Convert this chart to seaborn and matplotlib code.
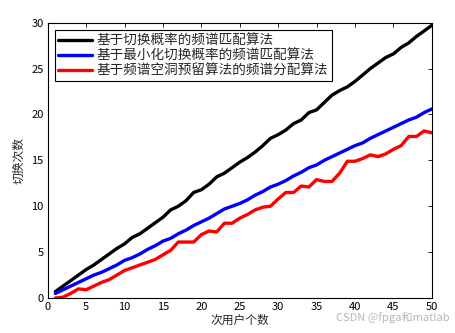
import numpy as np
import pandas as pd
import matplotlib
matplotlib.use("Agg")
import matplotlib.pyplot as plt
import seaborn as sns

x_users = list(range(1, 51))
black_vals = [0.7, 1.3, 1.9, 2.5, 3.1, 3.6, 4.2, 4.8, 5.4, 5.9,
              6.6, 7.0, 7.6, 8.2, 8.8, 9.6, 10.0, 10.6, 11.5, 11.8,
              12.4, 13.2, 13.6, 14.2, 14.8, 15.3, 15.9, 16.6, 17.4, 17.8,
              18.3, 19.0, 19.4, 20.2, 20.5, 21.3, 22.1, 22.6, 23.0, 23.6,
              24.3, 25.0, 25.6, 26.2, 26.6, 27.3, 27.8, 28.5, 29.1, 29.7]
blue_vals = [0.5, 0.9, 1.3, 1.7, 2.1, 2.5, 2.8, 3.2, 3.6, 4.1,
             4.4, 4.8, 5.3, 5.7, 6.2, 6.5, 7.0, 7.4, 7.9, 8.3,
             8.7, 9.2, 9.7, 10.0, 10.3, 10.7, 11.2, 11.6, 12.1, 12.4,
             12.8, 13.3, 13.7, 14.2, 14.5, 15.0, 15.4, 15.8, 16.2, 16.6,
             16.9, 17.4, 17.8, 18.2, 18.6, 19.0, 19.4, 19.7, 20.2, 20.6]
red_vals = [0.0, 0.1, 0.5, 1.0, 0.9, 1.3, 1.7, 2.0, 2.5, 3.0,
            3.3, 3.6, 3.9, 4.2, 4.7, 5.2, 6.1, 6.1, 6.1, 6.9,
            7.3, 7.2, 8.15, 8.15, 8.7, 9.1, 9.6, 9.9, 10.0, 10.8,
            11.5, 11.5, 12.2, 12.1, 12.9, 12.7, 12.7, 13.6, 14.9, 14.9,
            15.2, 15.6, 15.4, 15.7, 16.2, 16.6, 17.6, 17.6, 18.2, 18.0]
series_names = ["基于切换概率的频谱匹配算法",
                "基于最小化切换概率的频谱匹配算法",
                "基于频谱空洞预留算法的频谱分配算法"]
x_label = "次用户个数"
y_label = "切换次数"
x_ticks = [0, 5, 10, 15, 20, 25, 30, 35, 40, 45, 50]
y_ticks = [0, 5, 10, 15, 20, 25, 30]

sns.set_theme(style="white")
plt.rcParams['font.family'] = ['Noto Sans CJK SC', 'DejaVu Sans']

df = pd.DataFrame({
    "x": x_users * 3,
    "y": black_vals + blue_vals + red_vals,
    "s": [series_names[0]] * 50 + [series_names[1]] * 50 + [series_names[2]] * 50,
})

fig = plt.figure(figsize=(4.56, 3.33), dpi=100)
ax = fig.add_axes([0.1046, 0.105, 0.8424, 0.827])
sns.lineplot(data=df, x="x", y="y", hue="s", hue_order=series_names,
             palette=["#000000", "#0000ff", "#ff0000"], linewidth=2.4, ax=ax)

ax.set_xlim(0, 50)
ax.set_ylim(0, 30)
ax.set_xticks(x_ticks)
ax.set_yticks(y_ticks)
ax.tick_params(direction="in", length=3, width=0.6, top=True, right=True,
               labelsize=8, colors="black", pad=3)
for sp in ax.spines.values():
    sp.set_color("black")
    sp.set_linewidth(0.8)
ax.set_xlabel(x_label, fontsize=8.5, labelpad=1)
ax.set_ylabel(y_label, fontsize=8.5, labelpad=4)

leg = ax.legend(loc="upper left", bbox_to_anchor=(0.019, 0.973), fontsize=9.8,
                handlelength=2.5, handletextpad=0.3, borderpad=0.25,
                borderaxespad=0, labelspacing=0.08, frameon=True, fancybox=False,
                edgecolor="black", framealpha=1)
leg.get_frame().set_linewidth(0.8)
for line in leg.get_lines():
    line.set_linewidth(2.4)

fig.text(0.985, 0.03, "CSDN @fpga和matlab", ha="right", va="bottom",
         fontsize=8, color="#999999", alpha=0.7)

fig.savefig("out.png", dpi=100)
